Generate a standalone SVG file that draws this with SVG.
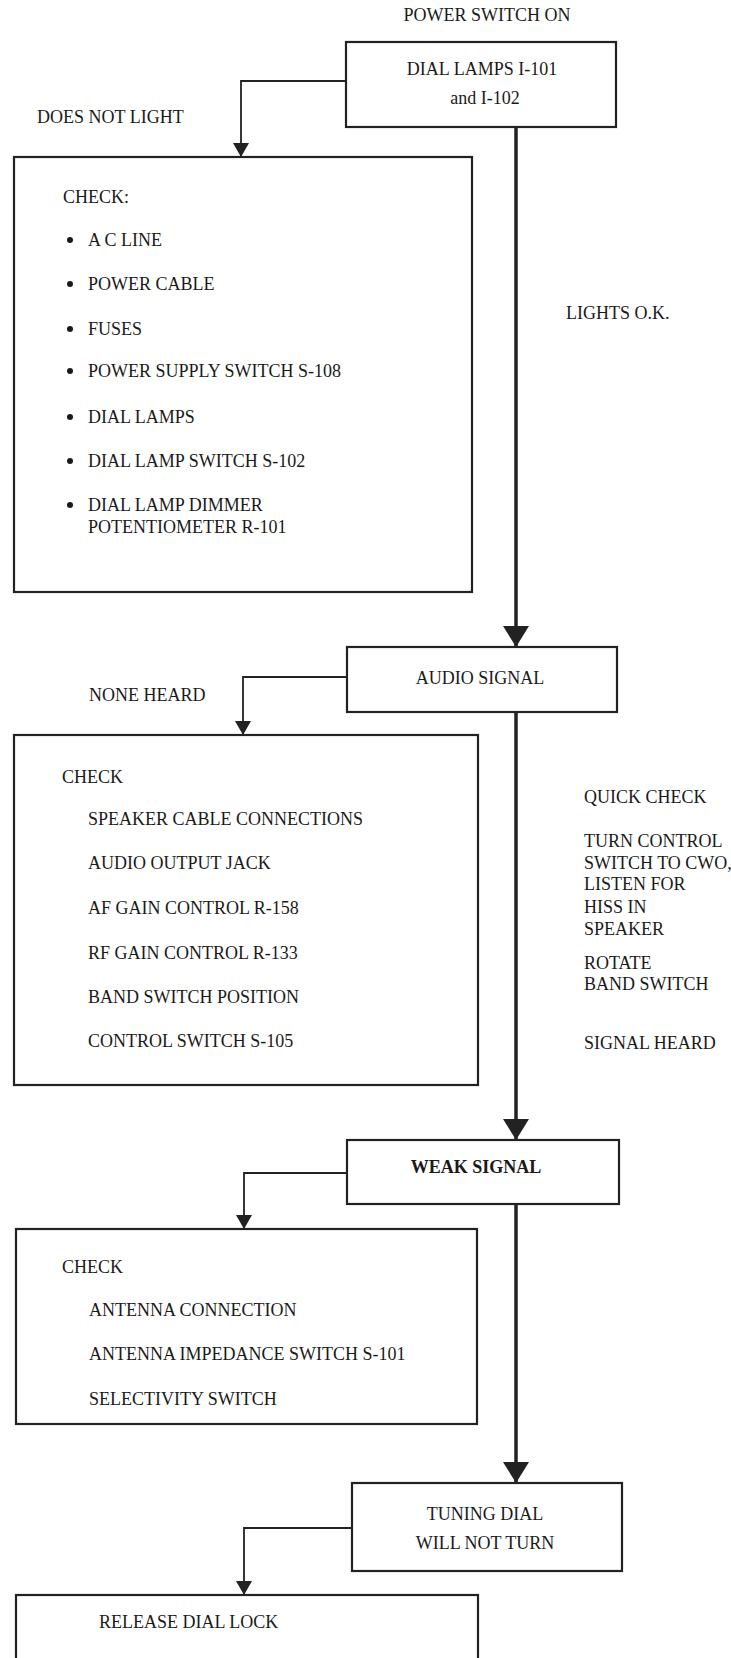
<svg xmlns="http://www.w3.org/2000/svg" width="731" height="1658" viewBox="0 0 731 1658">
<style>
.box{fill:none;stroke:#222;stroke-width:2.2}
.t{font-family:"Liberation Serif","Times New Roman",serif;font-size:18px;fill:#1a1a1a}
.c{text-anchor:middle}
.main{fill:none;stroke:#222;stroke-width:3.5}
.br{fill:none;stroke:#222;stroke-width:1.8}
.dot{fill:#1a1a1a}
</style>
<defs>
<marker id="sm" markerUnits="userSpaceOnUse" viewBox="0 0 14 16" refX="14" refY="8" markerWidth="14" markerHeight="16" orient="auto"><path d="M0,0 L14,8 L0,16 Z" fill="#222"/></marker>
<marker id="bg" markerUnits="userSpaceOnUse" viewBox="0 0 21 26" refX="21" refY="13" markerWidth="21" markerHeight="26" orient="auto"><path d="M0,0 L21,13 L0,26 Z" fill="#222"/></marker>
</defs>
<rect width="731" height="1658" fill="#fff"/>

<g id="labels">
<text class="t c" x="487" y="21">POWER SWITCH ON</text>
<text class="t" x="37" y="123">DOES NOT LIGHT</text>
<text class="t" x="566" y="319">LIGHTS O.K.</text>
<text class="t" x="89" y="701">NONE HEARD</text>
<text class="t" x="584" y="803">QUICK CHECK</text>
<text class="t" x="584" y="847">TURN CONTROL</text>
<text class="t" x="584" y="869">SWITCH TO CWO,</text>
<text class="t" x="584" y="890">LISTEN FOR</text>
<text class="t" x="584" y="913">HISS IN</text>
<text class="t" x="584" y="935">SPEAKER</text>
<text class="t" x="584" y="969">ROTATE</text>
<text class="t" x="584" y="990">BAND SWITCH</text>
<text class="t" x="584" y="1049">SIGNAL HEARD</text>
</g>

<g id="connectors">
<path class="main" d="M516,127 L516,647" marker-end="url(#bg)"/>
<path class="main" d="M516,712 L516,1140" marker-end="url(#bg)"/>
<path class="main" d="M516,1204 L516,1483" marker-end="url(#bg)"/>
<path class="br" d="M346,81 L241,81 L241,157" marker-end="url(#sm)"/>
<path class="br" d="M347,677 L243,677 L243,735" marker-end="url(#sm)"/>
<path class="br" d="M346,1173 L244,1173 L244,1229" marker-end="url(#sm)"/>
<path class="br" d="M352,1528 L244,1528 L244,1595" marker-end="url(#sm)"/>
</g>

<g id="dial-lamps">
<rect class="box" x="346" y="42" width="270" height="85"/>
<text class="t c" x="482" y="75">DIAL LAMPS I-101</text>
<text class="t c" x="485" y="104">and I-102</text>
</g>

<g id="check-power">
<rect class="box" x="14" y="157" width="458" height="435"/>
<text class="t" x="63" y="203">CHECK:</text>
<circle class="dot" cx="70" cy="240" r="3"/><text class="t" x="88" y="246">A C LINE</text>
<circle class="dot" cx="70" cy="284" r="3"/><text class="t" x="88" y="290">POWER CABLE</text>
<circle class="dot" cx="70" cy="329" r="3"/><text class="t" x="88" y="335">FUSES</text>
<circle class="dot" cx="70" cy="371" r="3"/><text class="t" x="88" y="377">POWER SUPPLY SWITCH S-108</text>
<circle class="dot" cx="70" cy="417" r="3"/><text class="t" x="88" y="423">DIAL LAMPS</text>
<circle class="dot" cx="70" cy="461" r="3"/><text class="t" x="88" y="467">DIAL LAMP SWITCH S-102</text>
<circle class="dot" cx="70" cy="505" r="3"/><text class="t" x="88" y="511">DIAL LAMP DIMMER</text>
<text class="t" x="88" y="533">POTENTIOMETER R-101</text>
</g>

<g id="audio-signal">
<rect class="box" x="347" y="647" width="270" height="65"/>
<text class="t c" x="480" y="684">AUDIO SIGNAL</text>
</g>

<g id="check-audio">
<rect class="box" x="14" y="735" width="464" height="350"/>
<text class="t" x="62" y="783">CHECK</text>
<text class="t" x="88" y="825">SPEAKER CABLE CONNECTIONS</text>
<text class="t" x="88" y="869">AUDIO OUTPUT JACK</text>
<text class="t" x="88" y="914">AF GAIN CONTROL R-158</text>
<text class="t" x="88" y="959">RF GAIN CONTROL R-133</text>
<text class="t" x="88" y="1003">BAND SWITCH POSITION</text>
<text class="t" x="88" y="1047">CONTROL SWITCH S-105</text>
</g>

<g id="weak-signal">
<rect class="box" x="347" y="1140" width="272" height="64"/>
<text class="t c" x="476" y="1173" font-weight="bold">WEAK SIGNAL</text>
</g>

<g id="check-weak">
<rect class="box" x="16" y="1229" width="461" height="195"/>
<text class="t" x="62" y="1273">CHECK</text>
<text class="t" x="89" y="1316">ANTENNA CONNECTION</text>
<text class="t" x="89" y="1360">ANTENNA IMPEDANCE SWITCH S-101</text>
<text class="t" x="89" y="1405">SELECTIVITY SWITCH</text>
</g>

<g id="tuning-dial">
<rect class="box" x="352" y="1483" width="270" height="88"/>
<text class="t c" x="485" y="1520">TUNING DIAL</text>
<text class="t c" x="485" y="1549">WILL NOT TURN</text>
</g>

<g id="release">
<rect class="box" x="16" y="1595" width="462" height="90"/>
<text class="t" x="99" y="1628">RELEASE DIAL LOCK</text>
</g>
</svg>
